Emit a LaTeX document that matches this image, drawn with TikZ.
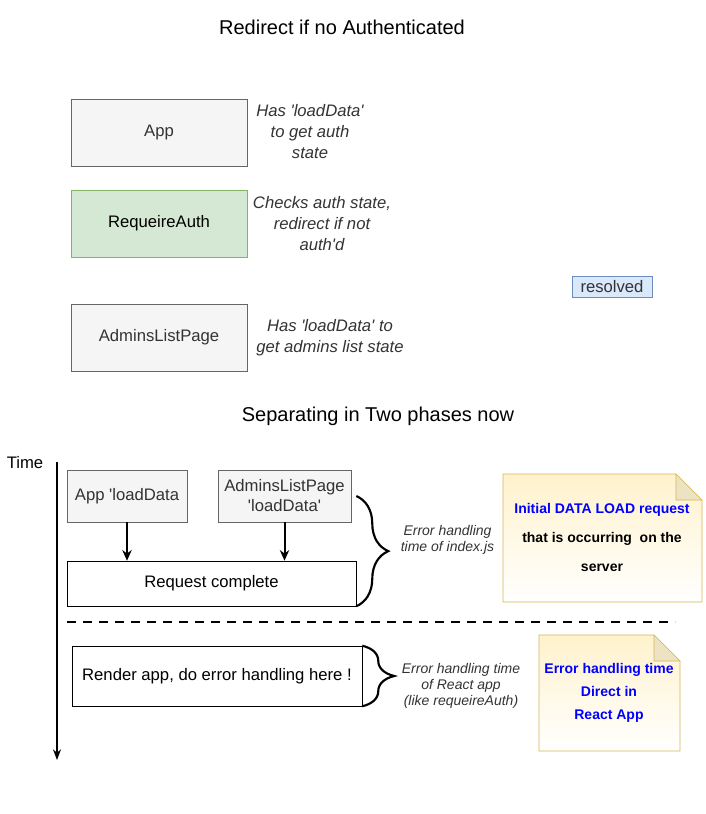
\documentclass[tikz,border=0pt]{standalone}
\usepackage{fontspec}
\setmainfont{Liberation Sans}
\usetikzlibrary{positioning}
\usetikzlibrary{arrows.meta}
\usetikzlibrary{decorations.pathreplacing}
\definecolor{boxfill}{HTML}{F5F5F5}
\definecolor{boxline}{HTML}{666666}
\definecolor{greenfill}{HTML}{D5E8D4}
\definecolor{greenline}{HTML}{82B366}
\definecolor{bluefill}{HTML}{DAE8FC}
\definecolor{blueline}{HTML}{6C8EBF}
\definecolor{notefill}{HTML}{FFF2CC}
\definecolor{noteline}{HTML}{D6B656}
\definecolor{notefold}{HTML}{EDE3C3}
\definecolor{txtgrey}{HTML}{333333}
\definecolor{noteblue}{HTML}{0000FF}
\newcommand{\sq}{\textquotesingle}

\tikzset{
    compbox/.style={draw=boxline, fill=boxfill, text=txtgrey, minimum width=132pt, minimum height=50.25pt},
    phasebox/.style={draw=black, fill=white, minimum height=33.75pt},
    anno/.style={align=center, text=txtgrey, font=\fontsize{12.5}{15.75}\selectfont\itshape},
    smallanno/.style={align=center, text=txtgrey, font=\fontsize{10.5}{12}\selectfont\itshape},
    heading/.style={font=\fontsize{15}{18}\selectfont},
    notetext/.style={align=center, font=\fontsize{10.5}{21.75}\selectfont\bfseries},
    notebody/.style={draw=noteline, top color=notefill, bottom color=white},
    bracepath/.style={decorate, decoration={brace, amplitude=24pt}, line width=1.6pt},
}

\begin{document}
\begin{tikzpicture}[x=0.75pt, y=-0.75pt, every node/.style={font=\fontsize{12.5}{15.75}\selectfont}]
    \useasboundingbox (0,0) rectangle (706,814);

    % first phase: component tree
    \node[heading] (title1) at (342,27) {Redirect if no Authenticated};
    \node[compbox] (app) at (159,132.5) {App};
    \node[anno] (appnote) at (310,132) {Has \sq loadData\sq\\to get auth\\state};
    \node[compbox, draw=greenline, fill=greenfill, text=black] (auth) at (159,223.5) {RequeireAuth};
    \node[anno] (authnote) at (322,224) {Checks auth state,\\redirect if not\\auth\sq d};
    \node[draw=blueline, fill=bluefill, text=txtgrey, minimum width=60pt, minimum height=15.75pt, inner sep=0pt] (resolved) at (612,286.5) {resolved};
    \node[compbox] (admins) at (159,337.5) {AdminsListPage};
    \node[anno] (adminsnote) at (330,337.5) {Has \sq loadData\sq\ to\\get admins list state};

    % second phase: timeline
    \node[heading] (title2) at (378,416) {Separating in Two phases now};
    \node (time) at (25,463) {Time};
    \coordinate (ttop) at (57,462);
    \coordinate (tbot) at (57,760);
    \draw[-{Stealth[length=8pt, width=6pt]}, line width=1.1pt] (ttop) -- (tbot);

    \node[compbox, minimum width=90pt, minimum height=39pt] (loadapp) at (127,496) {App \sq loadData};
    \node[compbox, minimum width=99.75pt, minimum height=39pt, align=center, font=\fontsize{12.5}{15}\selectfont] (loadadmins) at (284.5,496) {AdminsListPage\\\sq loadData\sq};
    \node[phasebox, minimum width=216.75pt] (request) at (211.5,583.5) {Request complete};
    \draw[-{Stealth[length=8pt, width=7pt]}, line width=1.5pt] (loadapp) -- (loadapp |- request.north);
    \draw[-{Stealth[length=8pt, width=7pt]}, line width=1.5pt] (loadadmins) -- (loadadmins |- request.north);

    \draw[bracepath] (request.east |- loadadmins.east) -- (request.south east);
    \node[smallanno] (idxnote) at (447.5,540) {Error handling\\time of index.js};

    \path[notebody] (503,474) -- (676,474) -- (702,500) -- (702,602) -- (503,602) -- cycle;
    \draw[noteline, fill=notefold] (676,474) -- (676,500) -- (702,500) -- cycle;
    \node[notetext] (servernote) at (602,537) {\textcolor{noteblue}{Initial DATA LOAD request}\\that is occurring\ \ on the\\server};

    \coordinate (sepleft) at (67,622);
    \coordinate (sepright) at (675,622);
    \draw[line width=1.5pt, dash pattern=on 7pt off 5pt] (sepleft) -- (sepright);

    \node[phasebox, minimum width=217.5pt, minimum height=45pt] (render) at (217,676) {Render app, do error handling here !};
    \draw[bracepath] (render.north east) -- (render.south east);
    \node[smallanno] (reactnote) at (461,686) {Error handling time\\of React app\\ (like requeireAuth)};

    \path[notebody] (539,635) -- (654,635) -- (680,661) -- (680,751) -- (539,751) -- cycle;
    \draw[noteline, fill=notefold] (654,635) -- (654,661) -- (680,661) -- cycle;
    \node[notetext, text=noteblue, font=\fontsize{10.5}{17.25}\selectfont\bfseries] (clientnote) at (609,693) {Error handling time\\Direct in\\React App};
\end{tikzpicture}
\end{document}
